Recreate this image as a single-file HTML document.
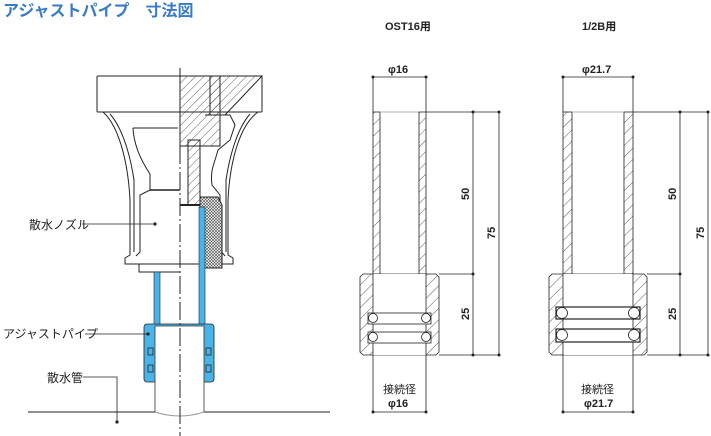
<!DOCTYPE html>
<html><head><meta charset="utf-8"><style>
html,body{margin:0;padding:0;background:#fff;width:711px;height:436px;overflow:hidden}
svg{display:block}
text{font-family:"Liberation Sans","Noto Sans CJK JP",sans-serif}
</style></head><body>
<svg width="711" height="436" viewBox="0 0 711 436" xmlns="http://www.w3.org/2000/svg">
<defs>
<pattern id="h" width="6" height="6" patternUnits="userSpaceOnUse" patternTransform="rotate(45)"><line x1="0" y1="0" x2="0" y2="6" stroke="#333" stroke-width="0.8"/></pattern>
<pattern id="hw" width="8" height="8" patternUnits="userSpaceOnUse" patternTransform="rotate(45)"><line x1="0" y1="0" x2="0" y2="8" stroke="#333" stroke-width="0.8"/></pattern>
<pattern id="x" width="3" height="3" patternUnits="userSpaceOnUse"><rect width="3" height="3" fill="#fff"/><path d="M0 0L3 3M3 0L0 3" stroke="#444" stroke-width="0.6"/></pattern>
</defs>
<text x="3" y="16" font-size="16" font-weight="bold" fill="#3a7cc4">アジャストパイプ　寸法図</text>

<!-- LEFT ASSEMBLY -->
<g fill="none" stroke="#222" stroke-width="1">
<line x1="28" y1="412" x2="155" y2="412"/>
<line x1="204" y1="412" x2="330" y2="412"/>
<rect x="97" y="76" width="165" height="36" rx="1" fill="#fff"/>
<path d="M103 112 C118 125 128 160 130 200 L130 255 L125 258 L125 264 L233 264 L233 258 L228 255 L228 200 C230 160 240 125 258 112"/>
<path d="M110 114 C124 130 131 160 134 180 L134 252"/>
<path d="M133 128 L178 128 M133 128 C134 150 146 168 150 174 L150 190 L178 190"/>
<path d="M150 190 L140 195 L140 252 L136 256"/>
<path d="M139 264 L139 272 L180 272"/>
<path d="M250 114 C236 130 229 160 226 180 L226 252"/>
<path d="M218 150 C214 165 210 170 212 185 L220 195 L220 250 L225 256"/>
<rect x="180" y="76" width="40" height="70" fill="url(#h)"/>
<path d="M210 76 L262 76 L225 115 L210 115 Z" fill="url(#h)"/>
<rect x="188" y="140" width="12" height="65" fill="url(#h)"/>
<path d="M200 197 L218 197 L222 205 L222 268 L200 268 Z" fill="url(#x)"/>
<line x1="180" y1="205" x2="200" y2="205" stroke-width="2"/>
<line x1="150" y1="190" x2="180" y2="190" stroke-width="1.5"/>
<path d="M205 115 L230 115 L235 125 L230 140 L218 150"/>
</g>
<rect x="154" y="272" width="6" height="53" fill="#4ab4e8" stroke="#222" stroke-width="0.6"/>
<rect x="199" y="207" width="6" height="118" fill="#4ab4e8" stroke="#222" stroke-width="0.6"/>
<rect x="144" y="324" width="70" height="58" rx="3" fill="#4ab4e8" stroke="#222" stroke-width="0.8"/>
<rect x="155" y="326" width="49" height="90" fill="#fff" stroke="none"/>
<path d="M155 326 L204 326 M155 326 L155 412 M204 326 L204 412" stroke="#333" stroke-width="0.8" fill="none"/>
<path d="M155 412 Q180 420 204 412" stroke="#999" fill="none"/>
<g fill="#4ab4e8" stroke="#222" stroke-width="0.8">
<rect x="148" y="348" width="5" height="7"/><rect x="148" y="365" width="5" height="7"/>
<rect x="206" y="348" width="5" height="7"/><rect x="206" y="365" width="5" height="7"/>
</g>
<line x1="180" y1="68" x2="180" y2="436" stroke="#222" stroke-width="1" stroke-dasharray="18,3,2,3"/>
<g font-size="12" fill="#222">
<text x="29" y="229">散水ノズル</text>
<text x="3" y="338">アジャストパイプ</text>
<text x="47" y="382">散水管</text>
</g>
<g stroke="#222" stroke-width="0.8" fill="none">
<line x1="82" y1="224" x2="155" y2="224"/>
<line x1="85" y1="334" x2="148" y2="334"/>
<path d="M83 377 L117 377 L117 422"/>
</g>
<g fill="#222"><circle cx="155" cy="224" r="1.6"/><circle cx="148" cy="334" r="1.6"/><circle cx="117" cy="422" r="1.6"/></g>

<!-- OST16 -->
<g stroke="#222" stroke-width="0.8" fill="none">
<text x="385" y="30" font-size="11" font-weight="bold" fill="#222" stroke="none">OST16用</text>
<text x="388" y="73" font-size="11" font-weight="bold" fill="#222" stroke="none">φ16</text>
<line x1="373" y1="77" x2="426" y2="77"/><line x1="373" y1="77" x2="373" y2="112"/><line x1="426" y1="77" x2="426" y2="112"/>
<rect x="373" y="112" width="7" height="162" fill="url(#hw)"/><rect x="419" y="112" width="7" height="162" fill="url(#hw)"/>
<line x1="380" y1="112" x2="419" y2="112" stroke="#999"/>
<path d="M363 274 L436 274 L439 277 L439 352 L436 355 L363 355 L360 352 L360 277 Z" fill="url(#hw)"/>
<rect x="373" y="274" width="53" height="81" fill="#fff" stroke="none"/>
<line x1="373" y1="274" x2="373" y2="355"/><line x1="426" y1="274" x2="426" y2="355"/>
<rect x="368" y="313" width="63" height="11" fill="#fff"/><rect x="368" y="332" width="63" height="11" fill="#fff"/>
<circle cx="373" cy="318" r="4.5" fill="#fff"/><circle cx="426" cy="318" r="4.5" fill="#fff"/>
<circle cx="373" cy="337" r="4.5" fill="#fff"/><circle cx="426" cy="337" r="4.5" fill="#fff"/>
<line x1="426" y1="112" x2="499" y2="112"/><line x1="439" y1="274" x2="473" y2="274"/><line x1="439" y1="355" x2="499" y2="355"/>
<line x1="473" y1="112" x2="473" y2="355"/><line x1="499" y1="112" x2="499" y2="355"/>
<line x1="373" y1="355" x2="373" y2="412"/><line x1="426" y1="355" x2="426" y2="412"/><line x1="373" y1="412" x2="426" y2="412"/>
</g>
<g fill="#222"><circle cx="373" cy="77" r="1.5"/><circle cx="426" cy="77" r="1.5"/><circle cx="473" cy="112" r="1.5"/><circle cx="499" cy="112" r="1.5"/><circle cx="473" cy="274" r="1.5"/><circle cx="473" cy="355" r="1.5"/><circle cx="499" cy="355" r="1.5"/><circle cx="373" cy="412" r="1.5"/><circle cx="426" cy="412" r="1.5"/></g>
<g font-size="11" font-weight="bold" fill="#222">
<text transform="translate(469,200) rotate(-90)">50</text>
<text transform="translate(495,239) rotate(-90)">75</text>
<text transform="translate(469,320) rotate(-90)">25</text>
<text x="383" y="393" font-weight="normal">接続径</text>
<text x="388" y="407">φ16</text>
</g>

<!-- 1/2B -->
<g stroke="#222" stroke-width="0.8" fill="none">
<text x="582" y="30" font-size="11" font-weight="bold" fill="#222" stroke="none">1/2B用</text>
<text x="582" y="73" font-size="11" font-weight="bold" fill="#222" stroke="none">φ21.7</text>
<line x1="563" y1="77" x2="633" y2="77"/><line x1="563" y1="77" x2="563" y2="112"/><line x1="633" y1="77" x2="633" y2="112"/>
<rect x="563" y="112" width="9" height="162" fill="url(#hw)"/><rect x="624" y="112" width="9" height="162" fill="url(#hw)"/>
<line x1="572" y1="112" x2="624" y2="112" stroke="#999"/>
<path d="M552 274 L644 274 L647 277 L647 352 L644 355 L552 355 L549 352 L549 277 Z" fill="url(#hw)"/>
<rect x="563" y="274" width="70" height="81" fill="#fff" stroke="none"/>
<line x1="563" y1="274" x2="563" y2="355"/><line x1="633" y1="274" x2="633" y2="355"/>
<rect x="556" y="307" width="84" height="12" fill="#fff" stroke-width="1.2"/><rect x="556" y="329" width="84" height="13" fill="#fff" stroke-width="1.2"/>
<circle cx="562" cy="313" r="5.5" fill="#fff"/><circle cx="634" cy="313" r="5.5" fill="#fff"/>
<circle cx="562" cy="335" r="5.5" fill="#fff"/><circle cx="634" cy="335" r="5.5" fill="#fff"/>
<line x1="633" y1="112" x2="708" y2="112"/><line x1="647" y1="274" x2="680" y2="274"/><line x1="647" y1="355" x2="708" y2="355"/>
<line x1="680" y1="112" x2="680" y2="355"/><line x1="708" y1="112" x2="708" y2="355"/>
<line x1="563" y1="355" x2="563" y2="412"/><line x1="633" y1="355" x2="633" y2="412"/><line x1="563" y1="412" x2="633" y2="412"/>
</g>
<g fill="#222"><circle cx="563" cy="77" r="1.5"/><circle cx="633" cy="77" r="1.5"/><circle cx="680" cy="112" r="1.5"/><circle cx="708" cy="112" r="1.5"/><circle cx="680" cy="274" r="1.5"/><circle cx="680" cy="355" r="1.5"/><circle cx="708" cy="355" r="1.5"/><circle cx="563" cy="412" r="1.5"/><circle cx="633" cy="412" r="1.5"/></g>
<g font-size="11" font-weight="bold" fill="#222">
<text transform="translate(676,200) rotate(-90)">50</text>
<text transform="translate(704,239) rotate(-90)">75</text>
<text transform="translate(676,320) rotate(-90)">25</text>
<text x="581" y="393" font-weight="normal">接続径</text>
<text x="584" y="407">φ21.7</text>
</g>
</svg>
</body></html>
